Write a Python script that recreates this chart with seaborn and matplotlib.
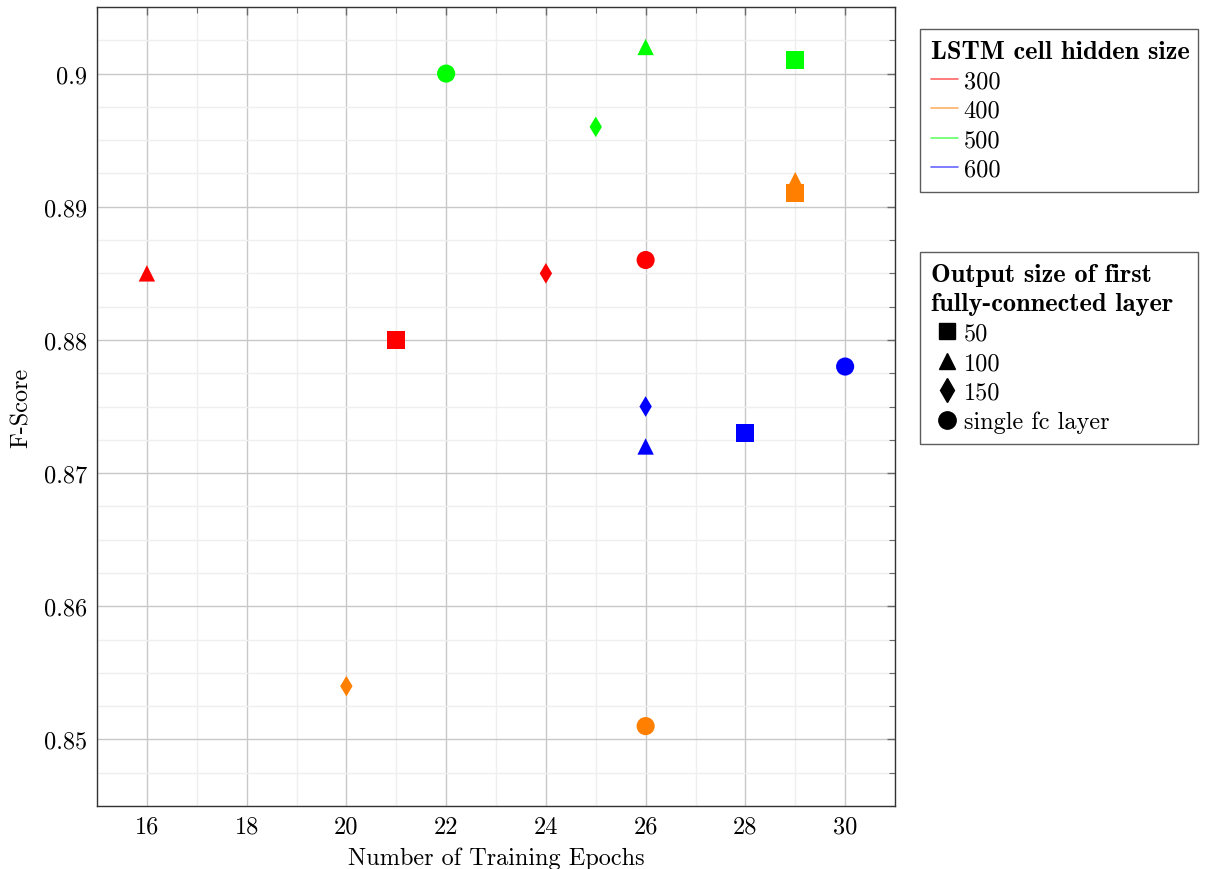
import numpy as np
import pandas as pd
import matplotlib
matplotlib.use('Agg')
import matplotlib.pyplot as plt
from matplotlib.lines import Line2D
from matplotlib.ticker import MultipleLocator
import seaborn as sns

# data
hidden = ['300'] * 4 + ['400'] * 4 + ['500'] * 4 + ['600'] * 4
fc_size = ['100', '50', '150', 'single fc layer',
           '150', 'single fc layer', '50', '100',
           'single fc layer', '150', '100', '50',
           '100', '150', '50', 'single fc layer']
epochs = [16, 21, 24, 26,
          20, 26, 29, 29,
          22, 25, 26, 29,
          26, 26, 28, 30]
fscore = [0.885, 0.880, 0.885, 0.886,
          0.854, 0.851, 0.891, 0.892,
          0.900, 0.896, 0.902, 0.901,
          0.872, 0.875, 0.873, 0.878]

hidden_levels = ['300', '400', '500', '600']
fc_levels = ['50', '100', '150', 'single fc layer']
palette = {'300': '#ff0000', '400': '#ff7f00', '500': '#00ff00', '600': '#0000ff'}
markers = {'50': 's', '100': '^', '150': 'd', 'single fc layer': 'o'}
sizes = {'50': 170, '100': 140, '150': 110, 'single fc layer': 170}

df = pd.DataFrame({'hidden': hidden, 'fc': fc_size, 'epochs': epochs, 'fscore': fscore})

sns.set_style('whitegrid')
plt.rcParams['font.family'] = ['cmr10', 'DejaVu Serif']
plt.rcParams['mathtext.fontset'] = 'cm'
plt.rcParams['axes.unicode_minus'] = False
plt.rcParams['text.color'] = 'black'
plt.rcParams['axes.labelcolor'] = 'black'
plt.rcParams['xtick.color'] = 'black'
plt.rcParams['ytick.color'] = 'black'

FS = 17.5

fig = plt.figure(figsize=(12.12, 8.70), dpi=100)
ax = fig.add_axes([97 / 1212, 1 - 807 / 870, (895 - 97) / 1212, (807 - 8) / 870])

sns.scatterplot(data=df, x='epochs', y='fscore', hue='hidden', style='fc', size='fc',
                hue_order=hidden_levels, style_order=fc_levels, size_order=fc_levels,
                palette=palette, markers=markers, sizes=sizes,
                linewidth=0, legend=False, ax=ax, zorder=3)

ax.set_xlim(15, 31)
ax.set_ylim(0.845, 0.905)
ax.xaxis.set_major_locator(MultipleLocator(2))
ax.xaxis.set_minor_locator(MultipleLocator(1))
ax.yaxis.set_minor_locator(MultipleLocator(0.0025))
ax.set_yticks([0.85, 0.86, 0.87, 0.88, 0.89, 0.9])
ax.set_yticklabels(['0.85', '0.86', '0.87', '0.88', '0.89', '0.9'])

ax.grid(which='major', color='#c8c8c8', linewidth=1.0)
ax.grid(which='minor', color='#efefef', linewidth=1.0)
ax.set_axisbelow(True)
ax.tick_params(which='both', direction='in', top=True, right=True, labelsize=FS,
               color='#6a6a6a', pad=7)
ax.tick_params(which='major', length=6, width=1)
ax.tick_params(which='minor', length=4, width=0.8)
for sp in ax.spines.values():
    sp.set_color('#333333')
    sp.set_linewidth(1.0)

ax.set_xlabel('Number of Training Epochs', fontsize=FS, labelpad=6)
ax.set_ylabel('F-Score', fontsize=FS, labelpad=8)

title_font = {'family': 'cmb10', 'size': 19}

# legend 1: colours
h1 = [Line2D([0], [0], color=palette[h], lw=1.2, alpha=0.6) for h in hidden_levels]
leg1 = fig.legend(h1, hidden_levels, loc='upper left', mode='expand',
                  bbox_to_anchor=(920 / 1212, 1 - 30 / 870, 278 / 1212, 0),
                  title='LSTM cell hidden size', alignment='left',
                  fontsize=FS, title_fontproperties=title_font,
                  frameon=True, fancybox=False, edgecolor='#333333',
                  handlelength=1.1, handletextpad=0.25, labelspacing=0.3,
                  borderpad=0.45, borderaxespad=0)
leg1.get_frame().set_linewidth(1.0)

# legend 2: markers
leg_ms = {'50': 12, '100': 12, '150': 12, 'single fc layer': 12.5}
h2 = [Line2D([0], [0], color='black', marker=markers[f], linestyle='none',
             markersize=leg_ms[f]) for f in fc_levels]
leg2 = fig.legend(h2, fc_levels, loc='upper left', mode='expand',
                  bbox_to_anchor=(920 / 1212, 1 - 253 / 870, 278 / 1212, 0),
                  title='Output size of first\nfully-connected layer', alignment='left',
                  fontsize=FS, title_fontproperties=title_font,
                  frameon=True, fancybox=False, edgecolor='#333333',
                  handlelength=1.3, handletextpad=0.05, labelspacing=0.3,
                  borderpad=0.45, borderaxespad=0)
leg2.get_title().set_linespacing(1.35)
leg2.get_frame().set_linewidth(1.0)

fig.savefig('out.png', dpi=100)
